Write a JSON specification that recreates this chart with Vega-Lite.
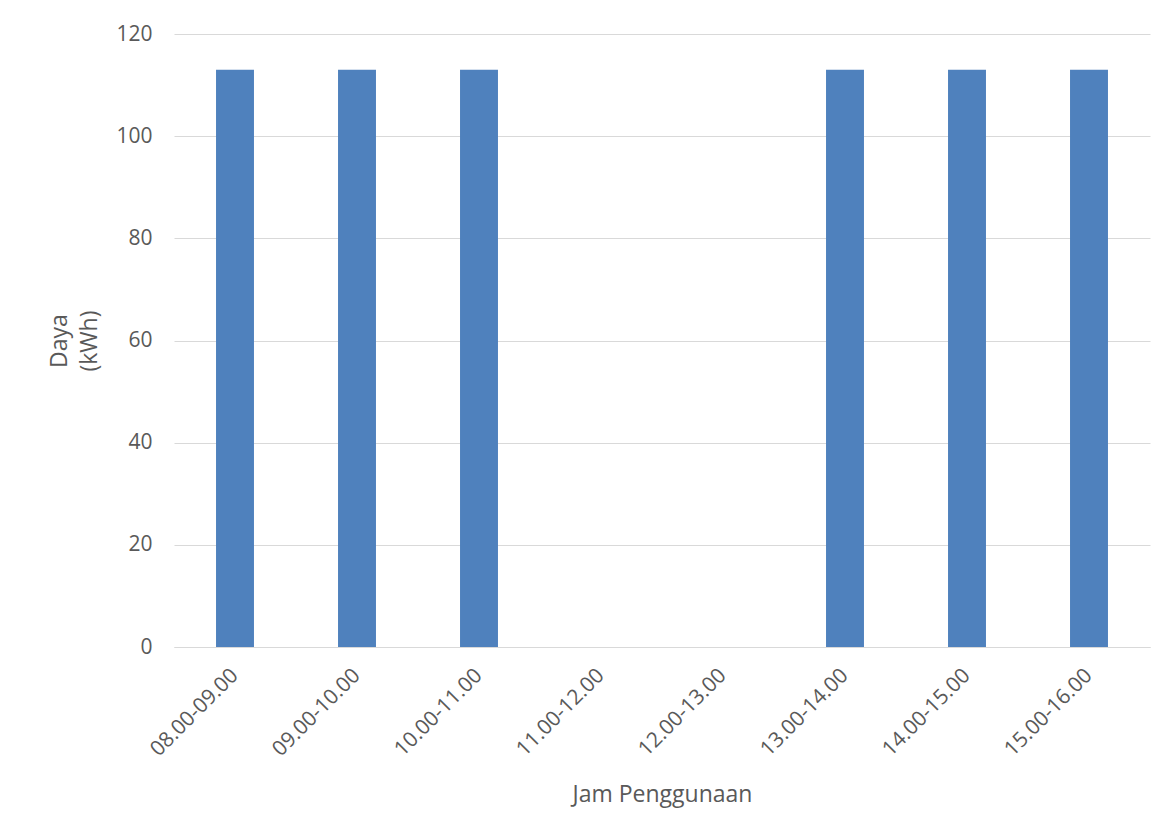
{
  "$schema": "https://vega.github.io/schema/vega-lite/v6.json",
  "autosize": "none",
  "width": 976,
  "height": 613,
  "padding": {"left": 174, "top": 34, "right": 26, "bottom": 189},
  "background": "white",
  "data": {
    "values": [
      {"jam": "08.00-09.00", "daya": 113},
      {"jam": "09.00-10.00", "daya": 113},
      {"jam": "10.00-11.00", "daya": 113},
      {"jam": "11.00-12.00", "daya": 0},
      {"jam": "12.00-13.00", "daya": 0},
      {"jam": "13.00-14.00", "daya": 113},
      {"jam": "14.00-15.00", "daya": 113},
      {"jam": "15.00-16.00", "daya": 113}
    ]
  },
  "mark": {"type": "bar", "color": "#4f81bd"},
  "encoding": {
    "x": {
      "field": "jam",
      "type": "nominal",
      "sort": null,
      "scale": {"paddingInner": 0.689, "paddingOuter": 0.3445},
      "axis": {
        "title": "Jam Penggunaan",
        "labelAngle": -45,
        "labelAlign": "right",
        "labelBaseline": "middle",
        "labelPadding": 25,
        "labelFontSize": 21,
        "ticks": false,
        "domain": true,
        "domainColor": "#d9d9d9",
        "domainWidth": 1,
        "titlePadding": 24
      }
    },
    "y": {
      "field": "daya",
      "type": "quantitative",
      "scale": {"domain": [0, 120], "nice": false},
      "axis": {
        "title": ["Daya", "(kWh)"],
        "values": [0, 20, 40, 60, 80, 100, 120],
        "domain": false,
        "ticks": false,
        "labelPadding": 22,
        "labelFontSize": 21,
        "titlePadding": 14,
        "titleLineHeight": 30,
        "gridColor": "#d9d9d9",
        "gridWidth": 1
      }
    }
  },
  "config": {
    "font": "Open Sans",
    "view": {"stroke": null},
    "axis": {
      "labelFont": "Open Sans",
      "labelColor": "#595959",
      "titleFont": "Open Sans",
      "titleFontSize": 23,
      "titleFontWeight": "normal",
      "titleColor": "#595959"
    }
  }
}
